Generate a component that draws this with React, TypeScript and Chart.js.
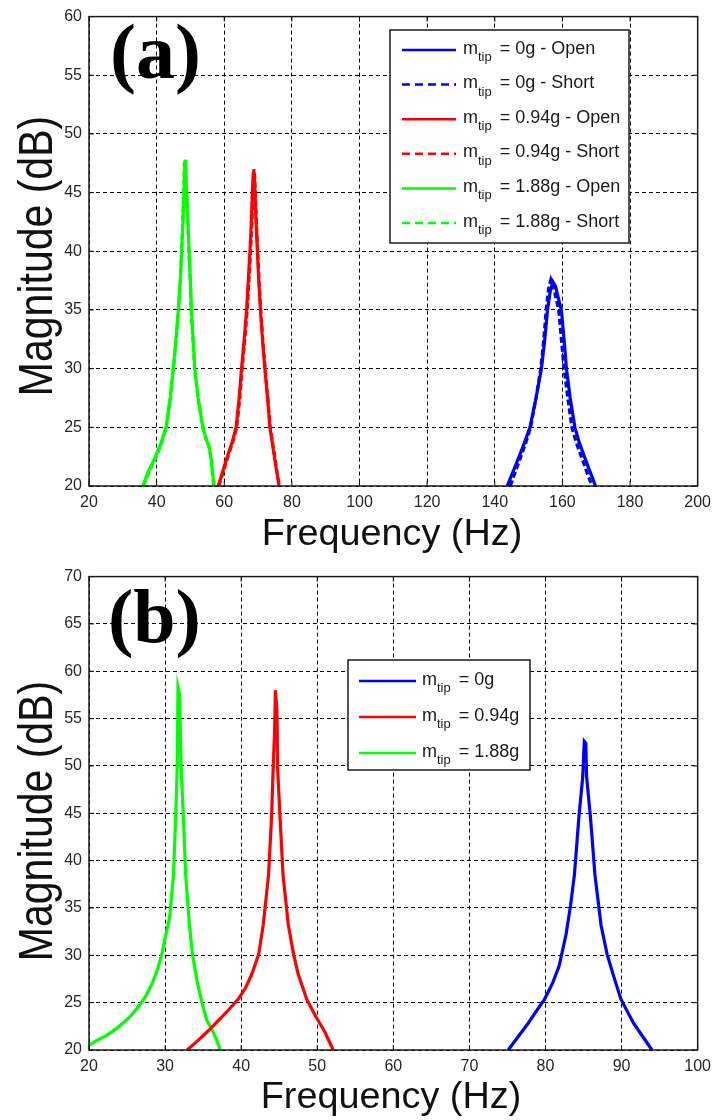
import React, { useEffect, useRef } from "react";
import { Chart, registerables } from "chart.js";

Chart.register(...registerables);

const SANS = '"Liberation Sans", Arial, sans-serif';
const SERIF = '"Liberation Serif", "Times New Roman", serif';

// ---------------- Panel (a) ----------------
const aXTicks = [20, 40, 60, 80, 100, 120, 140, 160, 180, 200];
const aYTicks = [20, 25, 30, 35, 40, 45, 50, 55, 60];

const aBlueOpenF = [143.7, 145.5, 147.2, 148.8, 150.4, 152.2, 153.8, 154.8, 155.6, 156.4, 157.2, 158.0, 158.8, 159.7, 160.5, 161.2, 162.3, 163.7, 165.0, 166.5, 168.2, 169.8];
const aBlueOpenDb = [20, 21.3, 22.5, 23.7, 25, 27.5, 30, 32.5, 35, 36.6, 37.4, 37.0, 36.0, 35, 32.5, 30, 27.5, 25, 23.7, 22.5, 21.2, 20];
const aBlueShortF = [144.6, 146.2, 147.7, 149.2, 150.6, 152.2, 153.6, 154.5, 155.2, 155.9, 156.6, 157.3, 158.1, 158.9, 159.7, 160.5, 161.6, 162.8, 164.1, 165.6, 167.2, 168.8];
const aBlueShortDb = [20, 21.3, 22.5, 23.7, 25, 27.5, 30, 32.5, 35, 36.8, 37.6, 37.1, 36.0, 35, 32.5, 30, 27.5, 25, 23.7, 22.5, 21.2, 20];

const aRedOpenF = [58.2, 59.5, 61.0, 62.4, 63.5, 64.4, 65.1, 65.9, 66.6, 67.1, 67.6, 68.0, 68.3, 68.6, 68.9, 69.1, 69.4, 69.8, 70.2, 70.7, 71.3, 72.0, 72.8, 73.5, 74.4, 75.3, 76.2];
const aRedOpenDb = [20, 21.2, 22.6, 23.8, 25, 27.5, 30, 32.5, 35, 37.5, 40, 42.5, 45, 46.8, 46.2, 45, 42.5, 40, 37.5, 35, 32.5, 30, 27.5, 25, 23.3, 21.6, 20];
const aRedShortF = [58.4, 59.7, 61.2, 62.6, 63.7, 64.6, 65.3, 66.1, 66.8, 67.3, 67.8, 68.2, 68.5, 68.8, 69.0, 69.2, 69.5, 69.9, 70.3, 70.8, 71.4, 72.1, 72.9, 73.6, 74.5, 75.4, 76.3];
const aRedShortDb = [20, 21.2, 22.6, 23.8, 25, 27.5, 30, 32.5, 35, 37.5, 40, 42.5, 45, 47.0, 46.4, 45, 42.5, 40, 37.5, 35, 32.5, 30, 27.5, 25, 23.3, 21.6, 20];

const aGreenOpenF = [35.9, 37.5, 39.5, 41.2, 42.8, 44.0, 44.9, 45.7, 46.4, 47.0, 47.4, 47.8, 48.1, 48.4, 48.6, 48.9, 49.3, 49.6, 50.0, 50.3, 50.8, 51.3, 52.3, 53.7, 54.7, 55.6, 56.2, 56.6, 57.0];
const aGreenOpenDb = [20, 21.2, 22.4, 23.6, 25, 27.5, 30, 32.5, 35, 37.5, 40, 42.5, 45, 47.8, 47.2, 45, 42.5, 40, 37.5, 35, 32.5, 30, 27.5, 25, 24, 23.3, 22.2, 21, 20];
const aGreenShortF = [36.1, 37.7, 39.6, 41.3, 42.9, 44.1, 45.0, 45.8, 46.5, 47.0, 47.4, 47.7, 48.0, 48.2, 48.5, 48.8, 49.2, 49.5, 49.9, 50.2, 50.7, 51.2, 52.2, 53.6, 54.6, 55.5, 56.1, 56.5, 56.9];
const aGreenShortDb = [20, 21.1, 22.3, 23.5, 25, 27.5, 30, 32.5, 35, 37.5, 40, 42.5, 45, 47.6, 47.0, 45, 42.5, 40, 37.5, 35, 32.5, 30, 27.5, 25, 24, 23.3, 22.2, 21, 20];

const aLegendTexts = ["= 0g - Open", "= 0g - Short", "= 0.94g - Open", "= 0.94g - Short", "= 1.88g - Open", "= 1.88g - Short"];

// ---------------- Panel (b) ----------------
const bXTicks = [20, 30, 40, 50, 60, 70, 80, 90, 100];
const bYTicks = [20, 25, 30, 35, 40, 45, 50, 55, 60, 65, 70];

const bBlueF = [75.1, 76.4, 77.7, 78.8, 79.9, 80.9, 81.8, 82.7, 83.3, 83.8, 84.4, 84.9, 85.1, 85.3, 85.4, 85.9, 86.5, 87.3, 88.1, 89.0, 89.9, 90.8, 91.6, 92.8, 94.0];
const bBlueDb = [20, 21.4, 22.8, 24.1, 25.4, 27.0, 28.9, 32.2, 35.3, 38.5, 44.7, 48.9, 52.6, 52.4, 48.9, 44.7, 38.5, 33.2, 30.1, 27.7, 25.4, 24.0, 22.8, 21.4, 20];

const bRedF = [32.9, 33.9, 34.85, 35.9, 37.0, 38.3, 39.65, 40.6, 41.4, 42.3, 42.9, 43.6, 44.0, 44.2, 44.4, 44.5, 44.7, 44.8, 45.1, 45.5, 46.2, 46.9, 47.5, 48.6, 49.7, 51.0, 52.1];
const bRedDb = [20, 20.7, 21.4, 22.2, 23.1, 24.2, 25.4, 26.6, 28, 30.1, 33.2, 38.5, 44.7, 49.6, 53.8, 58, 55.9, 49.6, 44.7, 38.5, 33.2, 30.1, 28, 25.4, 23.7, 21.9, 20];

const bGreenF = [20.0, 21.0, 22.2, 23.5, 24.7, 25.7, 26.6, 27.4, 28.3, 29.0, 29.6, 30.1, 30.6, 31.1, 31.4, 31.6, 31.7, 31.9, 32.1, 32.4, 32.7, 33.2, 33.6, 34.2, 34.85, 35.5, 36.2, 36.7, 37.25];
const bGreenDb = [20.5, 21.0, 21.5, 22.2, 23.0, 23.8, 24.7, 25.6, 27.0, 28.5, 30.2, 32.2, 34.0, 38.5, 44.7, 50, 58.3, 57.6, 50, 44.7, 38.5, 33.2, 30.1, 27.3, 25, 23.1, 22.1, 21.2, 20];

const bLegendTexts = ["= 0g", "= 0.94g", "= 1.88g"];

const BLUE = "#0000ff";
const RED = "#ff0000";
const GREEN = "#00ff00";

type LegendRow = { color: string; dash: number[]; text: string };

type PanelCfg = {
  xMin: number; xMax: number; yMin: number; yMax: number;
  xTicks: number[]; yTicks: number[];
  datasets: any[];
  padTop: number; padRight: number; xAxisH: number;
  label: string; labelX: number; labelY: number; labelSize: number;
  yTitleCx: number; yTitleCy: number; xTitleCx: number; xTitleBase: number;
  legend: { x: number; y: number; w: number; h: number; row0: number; gap: number; l0: number; l1: number; tx: number; rows: LegendRow[] };
};

function series(label: string, f: number[], db: number[], color: string, dashed: boolean) {
  return {
    label,
    data: f.map((x, i) => ({ x, y: db[i] })),
    borderColor: color,
    backgroundColor: color,
    borderWidth: 3.2,
    borderDash: dashed ? [6, 3] : [],
    pointRadius: 0,
    tension: 0,
    fill: false,
  };
}

function makePlugin(cfg: PanelCfg) {
  return {
    id: "frameDecor",
    afterDraw(chart: any) {
      const { ctx, chartArea: a, scales } = chart;
      ctx.save();
      // inward tick marks
      ctx.strokeStyle = "#111";
      ctx.lineWidth = 1;
      ctx.setLineDash([]);
      ctx.beginPath();
      for (const v of cfg.xTicks) {
        const px = scales.x.getPixelForValue(v);
        ctx.moveTo(px, a.bottom); ctx.lineTo(px, a.bottom - 5);
        ctx.moveTo(px, a.top); ctx.lineTo(px, a.top + 5);
      }
      for (const v of cfg.yTicks) {
        const py = scales.y.getPixelForValue(v);
        ctx.moveTo(a.left, py); ctx.lineTo(a.left + 5, py);
        ctx.moveTo(a.right, py); ctx.lineTo(a.right - 5, py);
      }
      ctx.stroke();
      // frame
      ctx.lineWidth = 1.5;
      ctx.strokeStyle = "#1a1a1a";
      ctx.strokeRect(a.left, a.top, a.right - a.left, a.bottom - a.top);

      // legend
      const L = cfg.legend;
      ctx.fillStyle = "#fff";
      ctx.fillRect(L.x, L.y, L.w, L.h);
      ctx.strokeStyle = "#1a1a1a";
      ctx.lineWidth = 1.5;
      ctx.strokeRect(L.x, L.y, L.w, L.h);
      L.rows.forEach((r, i) => {
        const y = L.row0 + i * L.gap;
        ctx.strokeStyle = r.color;
        ctx.lineWidth = 2.5;
        ctx.setLineDash(r.dash);
        ctx.beginPath();
        ctx.moveTo(L.l0, y); ctx.lineTo(L.l1, y);
        ctx.stroke();
        ctx.setLineDash([]);
        ctx.fillStyle = "#1a1a1a";
        ctx.textAlign = "left";
        ctx.textBaseline = "alphabetic";
        ctx.font = `18px ${SANS}`;
        ctx.fillText("m", L.tx, y + 3.5);
        const mw = ctx.measureText("m").width;
        ctx.font = `13px ${SANS}`;
        ctx.fillText("tip", L.tx + mw, y + 11);
        const tw = ctx.measureText("tip").width;
        ctx.font = `18px ${SANS}`;
        ctx.fillText(r.text, L.tx + mw + tw + 8, y + 3.5);
      });

      // panel label
      ctx.fillStyle = "#000";
      ctx.font = `bold ${cfg.labelSize}px ${SERIF}`;
      ctx.textAlign = "left";
      ctx.textBaseline = "alphabetic";
      ctx.fillText(cfg.label, cfg.labelX, cfg.labelY);

      // y title
      ctx.fillStyle = "#111";
      ctx.save();
      ctx.translate(cfg.yTitleCx, cfg.yTitleCy);
      ctx.rotate(-Math.PI / 2);
      ctx.scale(1, 1.15);
      ctx.font = `41px ${SANS}`;
      ctx.textAlign = "center";
      ctx.textBaseline = "alphabetic";
      ctx.fillText("Magnitude (dB)", 0, 0);
      ctx.restore();

      // x title
      ctx.save();
      ctx.translate(cfg.xTitleCx, cfg.xTitleBase);
      ctx.scale(1.05, 1);
      ctx.font = `36px ${SANS}`;
      ctx.textAlign = "center";
      ctx.textBaseline = "alphabetic";
      ctx.fillText("Frequency (Hz)", 0, 0);
      ctx.restore();

      ctx.restore();
    },
  };
}

function Panel({ cfg, top }: { cfg: PanelCfg; top: number }) {
  const ref = useRef<HTMLCanvasElement | null>(null);
  useEffect(() => {
    if (!ref.current) return;
    const tickFont = { family: SANS, size: 16 };
    const chart = new Chart(ref.current, {
      type: "line",
      data: { datasets: cfg.datasets },
      options: {
        animation: false,
        responsive: false,
        events: [],
        layout: { padding: { left: 0, top: cfg.padTop, right: cfg.padRight, bottom: 0 } },
        plugins: { legend: { display: false }, tooltip: { enabled: false } },
        scales: {
          x: {
            type: "linear",
            min: cfg.xMin,
            max: cfg.xMax,
            afterBuildTicks: (s: any) => { s.ticks = cfg.xTicks.map((v) => ({ value: v })); },
            afterFit: (s: any) => { s.height = cfg.xAxisH; },
            ticks: { font: tickFont, color: "#262626", padding: 7, maxRotation: 0, autoSkip: false },
            grid: { color: "#000", lineWidth: 1, drawTicks: false },
            border: { display: false, dash: [4, 3] },
          },
          y: {
            type: "linear",
            min: cfg.yMin,
            max: cfg.yMax,
            afterBuildTicks: (s: any) => { s.ticks = cfg.yTicks.map((v) => ({ value: v })); },
            afterFit: (s: any) => { s.width = 89; },
            ticks: { font: tickFont, color: "#262626", padding: 7, autoSkip: false },
            grid: { color: "#000", lineWidth: 1, drawTicks: false },
            border: { display: false, dash: [4, 3] },
          },
        },
      } as any,
      plugins: [makePlugin(cfg)],
    });
    return () => chart.destroy();
  }, [cfg]);
  return (
    <canvas
      ref={ref}
      width={718}
      height={560}
      style={{ position: "absolute", left: 0, top, width: 718, height: 560, display: "block" }}
    />
  );
}

const panelA: PanelCfg = {
  xMin: 20, xMax: 200, yMin: 20, yMax: 60,
  xTicks: aXTicks, yTicks: aYTicks,
  datasets: [
    series("mtip = 0g - Open", aBlueOpenF, aBlueOpenDb, BLUE, false),
    series("mtip = 0g - Short", aBlueShortF, aBlueShortDb, BLUE, true),
    series("mtip = 0.94g - Open", aRedOpenF, aRedOpenDb, RED, false),
    series("mtip = 0.94g - Short", aRedShortF, aRedShortDb, RED, true),
    series("mtip = 1.88g - Open", aGreenOpenF, aGreenOpenDb, GREEN, false),
    series("mtip = 1.88g - Short", aGreenShortF, aGreenShortDb, GREEN, true),
  ],
  padTop: 12, padRight: 19, xAxisH: 74,
  label: "(a)", labelX: 110, labelY: 78, labelSize: 78,
  yTitleCx: 52, yTitleCy: 256, xTitleCx: 392, xTitleBase: 545,
  legend: {
    x: 390, y: 30, w: 239, h: 213, row0: 50, gap: 34.6, l0: 402, l1: 456, tx: 463,
    rows: [
      { color: BLUE, dash: [], text: aLegendTexts[0] },
      { color: BLUE, dash: [8, 5], text: aLegendTexts[1] },
      { color: RED, dash: [], text: aLegendTexts[2] },
      { color: RED, dash: [8, 5], text: aLegendTexts[3] },
      { color: GREEN, dash: [], text: aLegendTexts[4] },
      { color: GREEN, dash: [8, 5], text: aLegendTexts[5] },
    ],
  },
};

const panelB: PanelCfg = {
  xMin: 20, xMax: 100, yMin: 20, yMax: 70,
  xTicks: bXTicks, yTicks: bYTicks,
  datasets: [
    series("mtip = 0g", bBlueF, bBlueDb, BLUE, false),
    series("mtip = 0.94g", bRedF, bRedDb, RED, false),
    series("mtip = 1.88g", bGreenF, bGreenDb, GREEN, false),
  ],
  padTop: 16, padRight: 17, xAxisH: 70,
  label: "(b)", labelX: 108, labelY: 82, labelSize: 76,
  yTitleCx: 52, yTitleCy: 261, xTitleCx: 391, xTitleBase: 548,
  legend: {
    x: 348, y: 100, w: 182, h: 110, row0: 121, gap: 36, l0: 359, l1: 416, tx: 422,
    rows: [
      { color: BLUE, dash: [], text: bLegendTexts[0] },
      { color: RED, dash: [], text: bLegendTexts[1] },
      { color: GREEN, dash: [], text: bLegendTexts[2] },
    ],
  },
};

export default function App() {
  return (
    <div style={{ position: "absolute", left: 0, top: 0, width: 718, height: 1120, background: "#fff" }}>
      <Panel cfg={panelA} top={0} />
      <Panel cfg={panelB} top={560} />
    </div>
  );
}
